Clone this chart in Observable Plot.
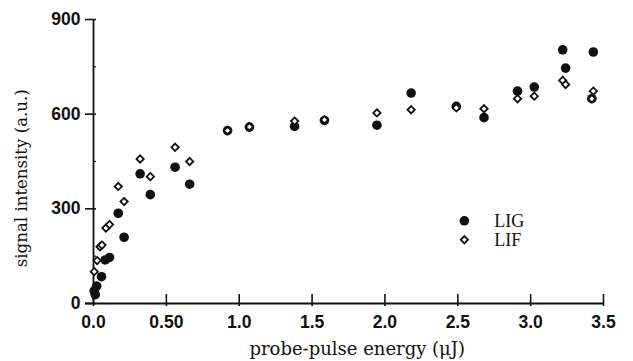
<!DOCTYPE html>
<html>
<head>
<meta charset="utf-8">
<script src="https://cdn.jsdelivr.net/npm/d3@7"></script>
<script src="https://cdn.jsdelivr.net/npm/@observablehq/plot@0.6"></script>
<style>
  html, body { margin: 0; padding: 0; background: #fff; }
  #chart svg { display: block; }
</style>
</head>
<body>
<div id="chart"></div>
<script>
// Data
const ligEnergy = [0.005, 0.012, 0.022, 0.055, 0.08, 0.11, 0.17, 0.21, 0.32, 0.39, 0.56, 0.66, 0.92, 1.07, 1.38, 1.585, 1.945, 2.18, 2.49, 2.68, 2.91, 3.025, 3.22, 3.24, 3.43, 3.42];
const ligSignal = [40, 28, 55, 85, 138, 146, 286, 210, 411, 345, 432, 378, 548, 559, 561, 580, 565, 667, 625, 589, 673, 686, 804, 746, 797, 649];
const lifEnergy = [0.005, 0.025, 0.045, 0.058, 0.085, 0.11, 0.17, 0.21, 0.32, 0.39, 0.56, 0.66, 0.92, 1.07, 1.38, 1.585, 1.945, 2.18, 2.49, 2.68, 2.91, 3.025, 3.22, 3.24, 3.43, 3.42];
const lifSignal = [101, 136, 180, 185, 239, 250, 371, 323, 458, 402, 495, 450, 548, 560, 578, 582, 604, 614, 620, 617, 649, 657, 707, 694, 673, 649];

const xTicks = [0, 0.5, 1.0, 1.5, 2.0, 2.5, 3.0, 3.5];
const xTickLabels = ["0.0", "0.50", "1.0", "1.5", "2.0", "2.5", "3.0", "3.5"];
const yTicks = [0, 300, 600, 900];
const yTickLabels = ["0", "300", "600", "900"];
const yMinorTicks = [150, 450, 750];

const seriesNames = ["LIG", "LIF"];
const xLabel = "probe-pulse energy (\u03bcJ)";
const yLabel = "signal intensity (a.u.)";

const lig = ligEnergy.map((e, i) => ({energy: e, signal: ligSignal[i]}));
const lif = lifEnergy.map((e, i) => ({energy: e, signal: lifSignal[i]}));

// legend anchor and axis-title positions in data space
const legendX = 2.545;
const legendY = [262, 202];
const legend = seriesNames.map((s, i) => ({name: s, y: legendY[i]}));
const xLabelPos = {x: 1.81, y: -145};
const yLabelPos = {x: -0.49, y: 397};

const sansBold = "'Liberation Sans', Arial, sans-serif";
const serif = "'DejaVu Serif', 'Liberation Serif', serif";
const ink = "#111";

const chart = Plot.plot({
  width: 633,
  height: 361,
  marginLeft: 93,
  marginRight: 30,
  marginTop: 19,
  marginBottom: 58,
  x: {domain: [0, 3.5], axis: null},
  y: {domain: [0, 900], axis: null},
  style: {background: "#fff"},
  marks: [
    // axis lines
    Plot.ruleX([0], {y1: 0, y2: 900, stroke: ink, strokeWidth: 1.8}),
    Plot.ruleY([0], {x1: 0, x2: 3.5, insetLeft: -8, stroke: ink, strokeWidth: 1.8}),
    // y ticks
    Plot.ruleY(yTicks, {x1: 0, x2: 0, insetLeft: -8, insetRight: -3, stroke: ink, strokeWidth: 1.6}),
    Plot.ruleY(yMinorTicks, {x1: 0, x2: 0, insetRight: -3, stroke: ink, strokeWidth: 1.2}),
    // x ticks
    Plot.ruleX(xTicks, {y1: 0, y2: 0, insetTop: -9, insetBottom: -3, stroke: ink, strokeWidth: 1.6}),
    // tick labels
    Plot.text(xTicks, {x: d => d, y: 0, text: (d, i) => xTickLabels[i], dy: 19, fontFamily: sansBold, fontWeight: "bold", fontSize: 17.5, fill: ink, style: "letter-spacing:1.2px"}),
    Plot.text(yTicks, {x: 0, y: d => d, text: (d, i) => yTickLabels[i], dx: -13, textAnchor: "end", fontFamily: sansBold, fontWeight: "bold", fontSize: 17.5, fill: ink, style: "letter-spacing:1.5px"}),
    // axis titles
    Plot.text([xLabel], {x: () => xLabelPos.x, y: () => xLabelPos.y, text: d => d, fontFamily: serif, fontSize: 18, fill: ink, style: "letter-spacing:0.4px"}),
    Plot.text([yLabel], {x: () => yLabelPos.x, y: () => yLabelPos.y, rotate: -90, text: d => d, fontFamily: serif, fontSize: 16.6, fill: ink}),
    // data
    Plot.dot(lig, {x: "energy", y: "signal", r: 4.8, fill: ink, stroke: "none"}),
    Plot.dot(lif, {x: "energy", y: "signal", symbol: "diamond2", r: 3.3, fill: "#fff", stroke: ink, strokeWidth: 1.8}),
    // legend
    Plot.dot(legend.slice(0, 1), {x: () => legendX, y: "y", r: 4.8, fill: ink}),
    Plot.dot(legend.slice(1), {x: () => legendX, y: "y", symbol: "diamond2", r: 3.3, fill: "#fff", stroke: ink, strokeWidth: 1.8}),
    Plot.text(legend, {x: () => legendX, y: "y", text: "name", dx: 30, textAnchor: "start", fontFamily: "'Liberation Serif', serif", fontSize: 18, fill: ink})
  ]
});
document.getElementById("chart").appendChild(chart);
</script>
</body>
</html>
